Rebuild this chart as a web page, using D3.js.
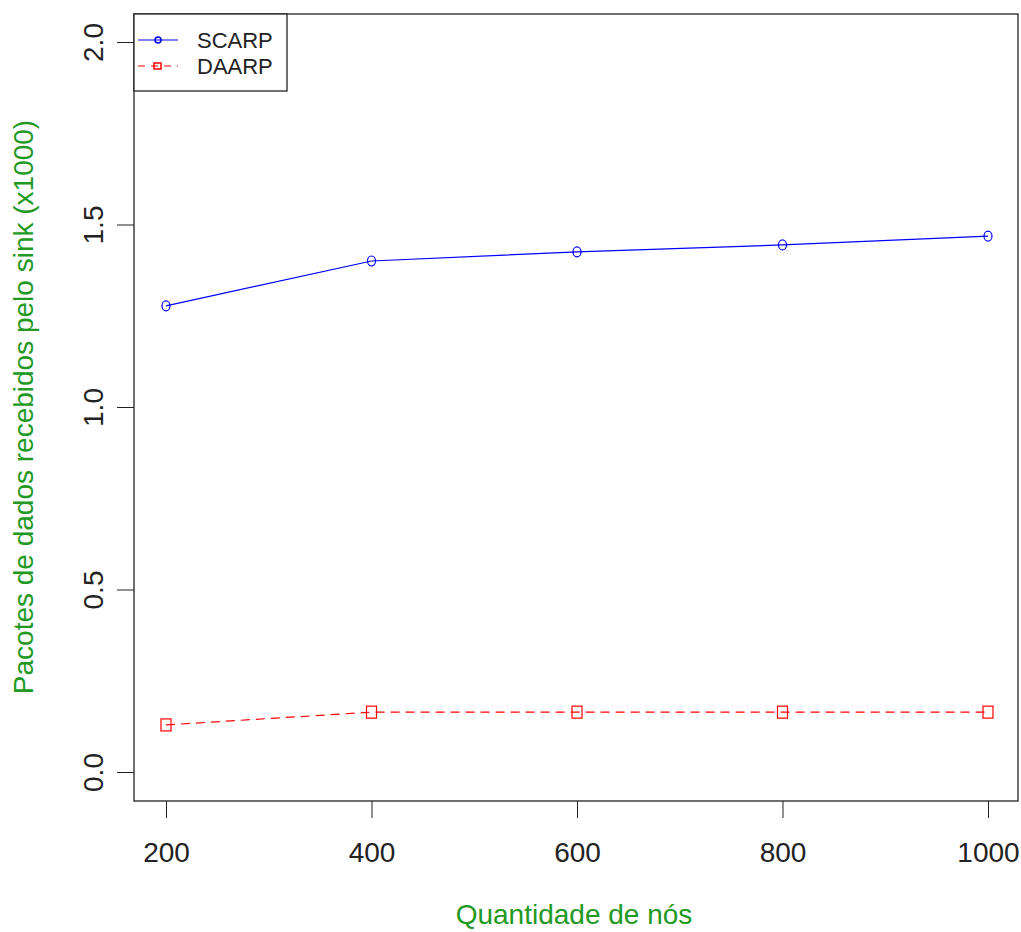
<!DOCTYPE html>
<html>
<head>
<meta charset="UTF-8">
<title>Pacotes recebidos pelo sink</title>
<script src="https://cdn.jsdelivr.net/npm/d3@7"></script>
<style>
    body { margin: 0; background: #fff; }
    text { font-family: "Liberation Sans", Arial, sans-serif; fill: #222; }
    .title { fill: #229922; }
</style>
</head>
<body>
<script>
// data
var nodes = [200, 400, 600, 800, 1000];
var scarp = [1.277, 1.400, 1.425, 1.444, 1.468];
var daarp = [0.129, 0.164, 0.164, 0.164, 0.164];
var yTicks = [0.0, 0.5, 1.0, 1.5, 2.0];
var seriesNames = ["SCARP", "DAARP"];

var width = 1021, height = 932;
var box = {left: 134, right: 1018, top: 14, bottom: 801};

var x = d3.scaleLinear().domain([200, 1000]).range([166, 988]);
var y = d3.scaleLinear().domain([0, 2]).range([772, 42]);

var svg = d3.select("body").append("svg")
    .attr("width", width)
    .attr("height", height);

// plot frame
svg.append("rect")
    .attr("x", box.left).attr("y", box.top)
    .attr("width", box.right - box.left)
    .attr("height", box.bottom - box.top)
    .attr("fill", "none").attr("stroke", "#222").attr("stroke-width", 1.3);

// x axis
var xAxis = svg.append("g")
    .attr("transform", "translate(0," + box.bottom + ")")
    .call(d3.axisBottom(x).tickValues(nodes).tickSize(17).tickPadding(24).tickFormat(d3.format("d")));
xAxis.select(".domain").remove();
xAxis.selectAll("line").attr("stroke", "#222");
xAxis.selectAll("text").attr("font-size", 28).attr("fill", "#222")
    .attr("font-family", "\"Liberation Sans\", Arial, sans-serif");

// y axis, labels rotated like in R
var yAxis = svg.append("g")
    .attr("transform", "translate(" + box.left + ",0)")
    .call(d3.axisLeft(y).tickValues(yTicks).tickSize(17).tickFormat(d3.format(".1f")));
yAxis.select(".domain").remove();
yAxis.selectAll("line").attr("stroke", "#222");
yAxis.selectAll("text")
    .attr("font-size", 28).attr("fill", "#222")
    .attr("font-family", "\"Liberation Sans\", Arial, sans-serif")
    .attr("x", null).attr("dy", null)
    .attr("text-anchor", "middle")
    .attr("transform", "translate(-41,0) rotate(-90) translate(0,10)");

// axis titles
svg.append("text")
    .attr("class", "title")
    .attr("x", 574).attr("y", 924)
    .attr("text-anchor", "middle")
    .attr("font-size", 28)
    .text("Quantidade de nós");

svg.append("text")
    .attr("class", "title")
    .attr("transform", "translate(33," + y(1.0) + ") rotate(-90)")
    .attr("text-anchor", "middle")
    .attr("font-size", 28)
    .text("Pacotes de dados recebidos pelo sink (x1000)");

var line = d3.line()
    .x(function(d, i) { return x(nodes[i]); })
    .y(function(d) { return y(d); });

// SCARP
svg.append("path")
    .datum(scarp)
    .attr("d", line)
    .attr("fill", "none").attr("stroke", "#0000ff").attr("stroke-width", 1.2);
svg.append("g").selectAll("ellipse")
    .data(scarp)
    .enter().append("ellipse")
    .attr("cx", function(d, i) { return x(nodes[i]); })
    .attr("cy", function(d) { return y(d); })
    .attr("rx", 4).attr("ry", 5)
    .attr("fill", "none").attr("stroke", "#0000ff").attr("stroke-width", 1.2);

// DAARP
svg.append("path")
    .datum(daarp)
    .attr("d", line)
    .attr("fill", "none").attr("stroke", "#ff0000").attr("stroke-width", 1.2)
    .attr("stroke-dasharray", "9,6");
svg.append("g").selectAll("rect")
    .data(daarp)
    .enter().append("rect")
    .attr("x", function(d, i) { return x(nodes[i]) - 5; })
    .attr("y", function(d) { return y(d) - 6; })
    .attr("width", 10).attr("height", 12)
    .attr("fill", "none").attr("stroke", "#ff0000").attr("stroke-width", 1.2);

// legend
var legend = svg.append("g");
legend.append("rect")
    .attr("x", box.left).attr("y", box.top)
    .attr("width", 153).attr("height", 77)
    .attr("fill", "#fff").attr("stroke", "#222").attr("stroke-width", 1.3);

var legendRows = [
    {name: seriesNames[0], color: "#0000ff", dash: null, y: 40},
    {name: seriesNames[1], color: "#ff0000", dash: "7,6", y: 66}
];
var rows = legend.selectAll("g.row")
    .data(legendRows)
    .enter().append("g")
    .attr("class", "row");
rows.append("line")
    .attr("x1", 138).attr("x2", 178)
    .attr("y1", function(d) { return d.y; })
    .attr("y2", function(d) { return d.y; })
    .attr("stroke", function(d) { return d.color; })
    .attr("stroke-width", 1.2)
    .attr("stroke-dasharray", function(d) { return d.dash; });
rows.filter(function(d, i) { return i === 0; }).append("ellipse")
    .attr("cx", 158).attr("cy", function(d) { return d.y; })
    .attr("rx", 3).attr("ry", 3)
    .attr("fill", "none").attr("stroke", "#0000ff").attr("stroke-width", 1.5);
rows.filter(function(d, i) { return i === 1; }).append("rect")
    .attr("x", 154).attr("y", function(d) { return d.y - 3; })
    .attr("width", 7).attr("height", 6)
    .attr("fill", "none").attr("stroke", "#ff0000").attr("stroke-width", 1.5);
rows.append("text")
    .attr("x", 197)
    .attr("y", function(d) { return d.y + 8; })
    .attr("font-size", 22)
    .text(function(d) { return d.name; });
</script>
</body>
</html>
